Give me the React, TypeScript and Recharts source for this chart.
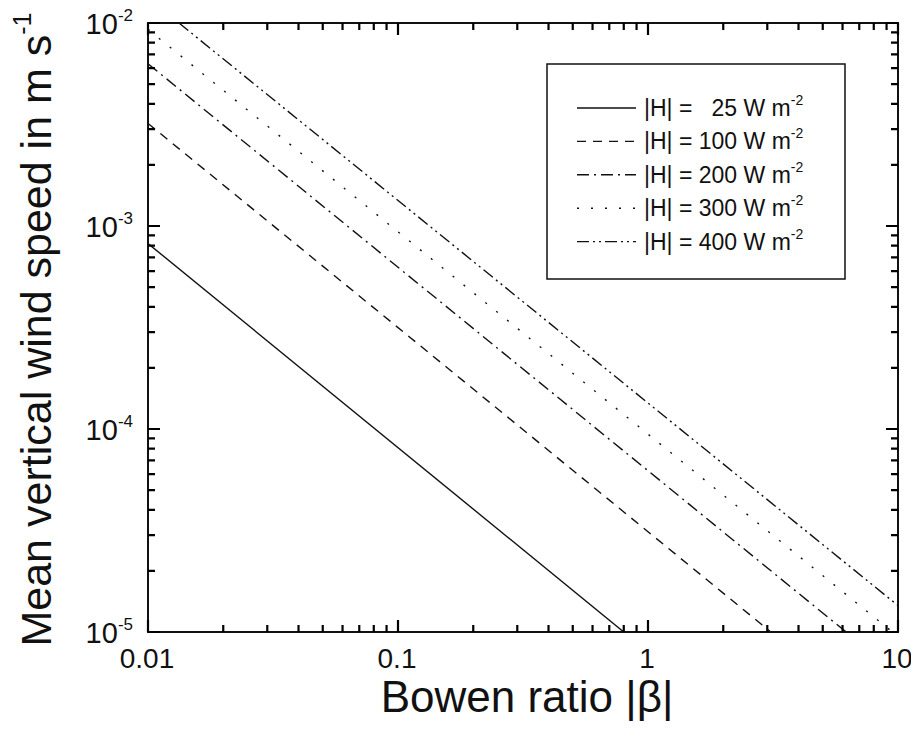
import React from "react";
import { LineChart, Line, XAxis, YAxis, ReferenceArea } from "recharts";

// values (visible end points of each straight log-log line)
const h25 = [
  { beta: 0.01, w: 8.2e-4 },
  { beta: 0.8, w: 1e-5 },
];
const h100 = [
  { beta: 0.01, w: 3.2e-3 },
  { beta: 3.1, w: 1e-5 },
];
const h200 = [
  { beta: 0.01, w: 6.3e-3 },
  { beta: 6.2, w: 1e-5 },
];
const h300 = [
  { beta: 0.01, w: 9.3e-3 },
  { beta: 9.5, w: 1e-5 },
];
const h400 = [
  { beta: 0.0133, w: 1e-2 },
  { beta: 10, w: 1.35e-5 },
];

const xDecades = [0.01, 0.1, 1, 10];
const xTickLabels = ["0.01", "0.1", "1", "10"];
const yDecades = [1e-5, 1e-4, 1e-3, 1e-2];
const yExponents = ["-5", "-4", "-3", "-2"];
const minorSteps = [2, 3, 4, 5, 6, 7, 8, 9];

const legendLabels = [
  "|H| =   25 W m",
  "|H| = 100 W m",
  "|H| = 200 W m",
  "|H| = 300 W m",
  "|H| = 400 W m",
];

const series = [
  { key: "h25", data: h25, dash: undefined },
  { key: "h100", data: h100, dash: "9 7" },
  { key: "h200", data: h200, dash: "12 5 2 5" },
  { key: "h300", data: h300, dash: "2 12" },
  { key: "h400", data: h400, dash: "12 4 2 4 2 4" },
];

const INK = "#111";
const FONT = "'Liberation Sans', Arial, Helvetica, sans-serif";

const W = 919;
const H = 733;
const TOP = 23;
const RIGHT = 21;
const LEFT_W = 148;
const BOTTOM_H = 101;
const PLOT_W = W - LEFT_W - RIGHT;
const PLOT_H = H - TOP - BOTTOM_H;

const buildTicks = (decades: number[]) => {
  const out: number[] = [];
  decades.forEach((d, i) => {
    out.push(d);
    if (i < decades.length - 1) minorSteps.forEach((m) => out.push(+(d * m).toPrecision(6)));
  });
  return out;
};
const xTicks = buildTicks(xDecades);
const yTicks = buildTicks(yDecades);

const decadeIndex = (list: number[], v: number) =>
  list.findIndex((d) => Math.abs(Math.log10(d) - Math.log10(v)) < 1e-6);

// bottom tick, mirrored on the top edge of the frame
const XTick = (props: any) => {
  const { x, y, payload } = props;
  const i = decadeIndex(xDecades, payload.value);
  const len = i >= 0 ? 12 : 7;
  const yt = y - PLOT_H;
  return (
    <g>
      <path
        d={`M${x},${y}L${x},${y - len}M${x},${yt}L${x},${yt + len}`}
        stroke="#000"
        strokeWidth={2.2}
        fill="none"
      />
      {i >= 0 && (
        <text x={x - 1} y={y + 36} textAnchor="middle" fontSize={28} fill={INK} fontFamily={FONT}>
          {xTickLabels[i]}
        </text>
      )}
    </g>
  );
};

// left tick, mirrored on the right edge of the frame
const YTick = (props: any) => {
  const { x, y, payload } = props;
  const i = decadeIndex(yDecades, payload.value);
  const len = i >= 0 ? 12 : 7;
  const xr = x + PLOT_W;
  return (
    <g>
      <path
        d={`M${x},${y}L${x + len},${y}M${xr},${y}L${xr - len},${y}`}
        stroke="#000"
        strokeWidth={2.2}
        fill="none"
      />
      {i >= 0 && (
        <text x={x - 15} y={y + 11} textAnchor="end" fontSize={29} fill={INK} fontFamily={FONT}>
          10
          <tspan dy={-13} fontSize={17}>
            {yExponents[i]}
          </tspan>
        </text>
      )}
    </g>
  );
};

// axis titles and legend box, laid over the chart
const Overlay = () => {
  const cx = 51;
  const cy = TOP + PLOT_H / 2 + 2;
  return (
    <svg
      width={W}
      height={H}
      style={{ position: "absolute", left: 0, top: 0, pointerEvents: "none" }}
    >
      <text
        x={LEFT_W + PLOT_W / 2 + 4}
        y={H - 21}
        textAnchor="middle"
        fontSize={44}
        fill={INK}
        fontFamily={FONT}
      >
        Bowen ratio |β|
      </text>
      <text
        x={cx}
        y={cy}
        transform={`rotate(-90 ${cx} ${cy})`}
        textAnchor="middle"
        fontSize={43}
        fill={INK}
        fontFamily={FONT}
      >
        Mean vertical wind speed in m s
        <tspan dy={-20} fontSize={25}>
          -1
        </tspan>
      </text>
      <rect x={547} y={64} width={298} height={215} fill="#fff" stroke={INK} strokeWidth={1.5} />
      {series.map((s, i) => {
        const base = 116 + i * 33.4;
        return (
          <g key={s.key}>
            <line
              x1={577}
              x2={636}
              y1={base - 8}
              y2={base - 8}
              stroke={INK}
              strokeWidth={1.4}
              strokeDasharray={s.dash}
            />
            <text
              x={644}
              y={base}
              fontSize={23}
              fill={INK}
              fontFamily={FONT}
              xmlSpace="preserve"
              style={{ whiteSpace: "pre" }}
            >
              {legendLabels[i]}
              <tspan dy={-11} fontSize={14}>
                -2
              </tspan>
            </text>
          </g>
        );
      })}
    </svg>
  );
};

const App = () => {
  return (
    <div style={{ position: "relative", width: W, height: H, margin: -8, background: "#fff" }}>
      <LineChart width={W} height={H} margin={{ top: TOP, right: RIGHT, bottom: 0, left: 0 }}>
        <XAxis
          xAxisId={0}
          dataKey="beta"
          type="number"
          scale="log"
          domain={[0.01, 10]}
          allowDataOverflow
          ticks={xTicks}
          interval={0}
          height={BOTTOM_H}
          tickSize={0}
          tickMargin={0}
          tickLine={false}
          axisLine={{ stroke: INK, strokeWidth: 2 }}
          tick={<XTick />}
        />
        <YAxis
          yAxisId={0}
          dataKey="w"
          type="number"
          scale="log"
          domain={[1e-5, 1e-2]}
          allowDataOverflow
          ticks={yTicks}
          interval={0}
          width={LEFT_W}
          tickSize={0}
          tickMargin={0}
          tickLine={false}
          axisLine={{ stroke: INK, strokeWidth: 2 }}
          tick={<YTick />}
        />
        <ReferenceArea
          xAxisId={0}
          yAxisId={0}
          x1={xDecades[0]}
          x2={xDecades[xDecades.length - 1]}
          y1={yDecades[0]}
          y2={yDecades[yDecades.length - 1]}
          fill="none"
          fillOpacity={0}
          stroke={INK}
          strokeWidth={2}
          ifOverflow="visible"
        />
        {series.map((s) => (
          <Line
            key={s.key}
            xAxisId={0}
            yAxisId={0}
            data={s.data}
            dataKey="w"
            name={s.key}
            stroke={INK}
            strokeWidth={1.4}
            strokeDasharray={s.dash}
            dot={false}
            activeDot={false}
            isAnimationActive={false}
          />
        ))}
      </LineChart>
      <Overlay />
    </div>
  );
};

export default App;
